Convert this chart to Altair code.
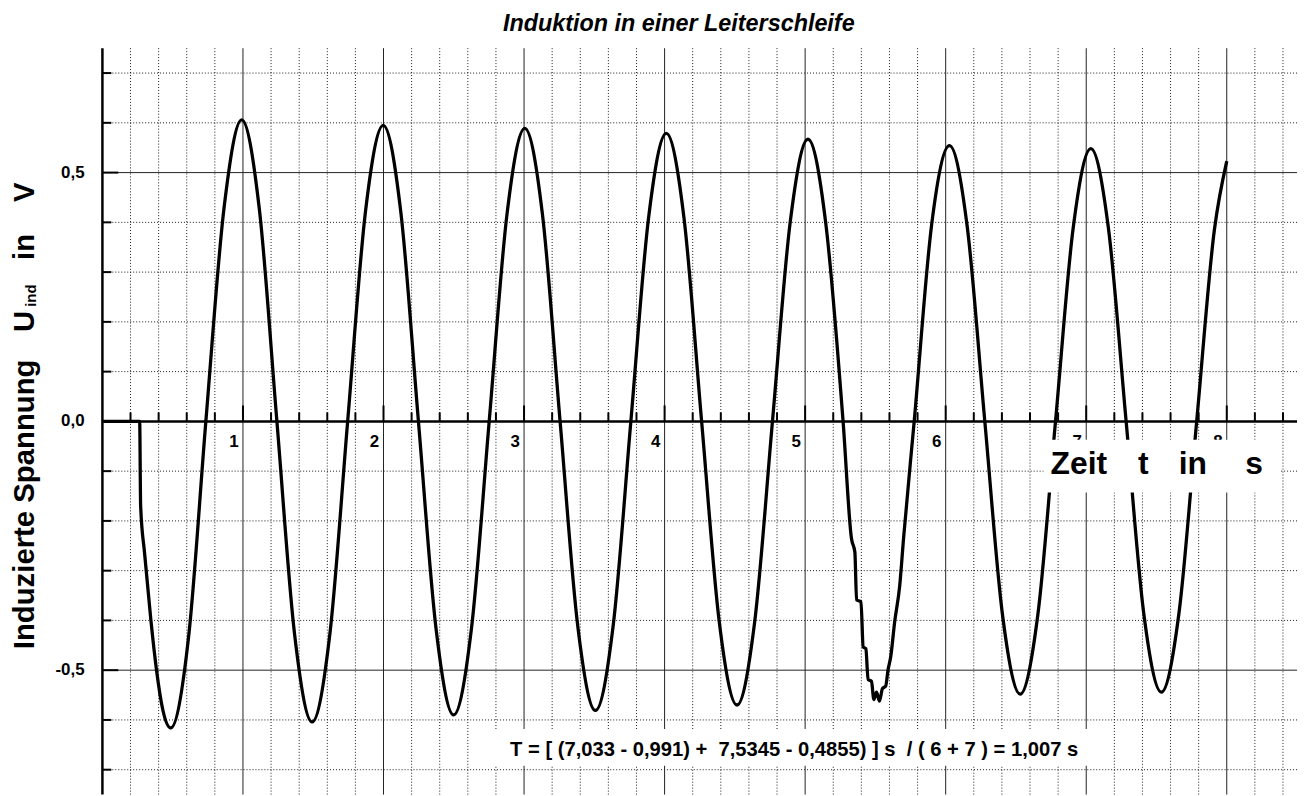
import altair as alt
import pandas as pd

t_s = [0.0, 0.265, 0.272, 0.30, 0.345, 0.385, 0.43, 0.4855,
       0.612, 0.736, 0.865, 0.991,
       1.116, 1.2415, 1.367, 1.492,
       1.6185, 1.745, 1.8715, 1.998,
       2.123, 2.2485, 2.374, 2.499,
       2.6255, 2.752, 2.8785, 3.005,
       3.131, 3.2565, 3.382, 3.508,
       3.634, 3.760, 3.886, 4.012,
       4.138, 4.2635, 4.389, 4.515,
       4.641, 4.7675, 4.894, 5.020,
       5.146, 5.27, 5.33, 5.354, 5.366, 5.397, 5.413, 5.432, 5.448, 5.472,
       5.489, 5.508, 5.529, 5.550, 5.573, 5.590, 5.609, 5.637, 5.673, 5.70,
       5.776, 5.90, 6.027,
       6.153, 6.2785, 6.404, 6.530,
       6.656, 6.7815, 6.907, 7.033,
       7.158, 7.284, 7.409, 7.5345,
       7.66, 7.786, 7.912, 8.0]
u_v = [0.0, 0.0, -0.17, -0.265, -0.40, -0.50, -0.58, -0.616,
       -0.436, 0.0, 0.428, 0.606,
       0.428, 0.0, -0.427, -0.604,
       -0.427, 0.0, 0.421, 0.595,
       0.421, 0.0, -0.417, -0.590,
       -0.417, 0.0, 0.416, 0.589,
       0.416, 0.0, -0.411, -0.581,
       -0.411, 0.0, 0.409, 0.579,
       0.409, 0.0, -0.403, -0.570,
       -0.403, 0.0, 0.401, 0.567,
       0.40, 0.0, -0.236, -0.263, -0.359, -0.362, -0.453, -0.457, -0.519, -0.522,
       -0.559, -0.544, -0.562, -0.537, -0.532, -0.499, -0.473, -0.403, -0.330, -0.236,
       0.0, 0.395, 0.554,
       0.392, 0.0, -0.388, -0.548,
       -0.388, 0.0, 0.388, 0.548,
       0.388, 0.0, -0.385, -0.544,
       -0.385, 0.0, 0.385, 0.523]

# ---- grid / tick values ----
x_major = [1, 2, 3, 4, 5, 6, 7, 8]
x_minor = [round(0.2 * i, 1) for i in range(1, 43) if i % 5]
y_major = [-0.5, 0.5]
y_minor = [-0.7, -0.6, -0.4, -0.3, -0.2, -0.1, 0.1, 0.2, 0.3, 0.4, 0.6, 0.7]
y_tick_major = [-0.5, 0.0, 0.5]
y_labels = ["-0,5", "0,0", "0,5"]
x_labels = ["1", "2", "3", "4", "5", "6", "7", "8"]

FONT = "Liberation Sans"
xs = alt.Scale(domain=[0, 8.5], nice=False, zero=False)
ys = alt.Scale(domain=[-0.75, 0.75], nice=False, zero=False)

curve = pd.DataFrame({"t": t_s, "u": u_v})
df_xmaj = pd.DataFrame({"v": x_major})
df_xmin = pd.DataFrame({"v": x_minor})
df_ymaj = pd.DataFrame({"v": y_major})
df_ymin = pd.DataFrame({"v": y_minor})

grid_xmin = alt.Chart(df_xmin).mark_rule(color="black", strokeWidth=1, strokeDash=[1, 2], opacity=0.9).encode(
    x=alt.X("v:Q", scale=xs, axis=None))
grid_ymin = alt.Chart(df_ymin).mark_rule(color="black", strokeWidth=1, strokeDash=[1, 2], opacity=0.9).encode(
    y=alt.Y("v:Q", scale=ys, axis=None))
grid_xmaj = alt.Chart(df_xmaj).mark_rule(color="#222", strokeWidth=1).encode(
    x=alt.X("v:Q", scale=xs, axis=None))
grid_ymaj = alt.Chart(df_ymaj).mark_rule(color="#222", strokeWidth=1).encode(
    y=alt.Y("v:Q", scale=ys, axis=None))

line = alt.Chart(curve).mark_line(color="black", strokeWidth=3.3, interpolate="monotone").encode(
    x=alt.X("t:Q", scale=xs, axis=None),
    y=alt.Y("u:Q", scale=ys, axis=None))

# axis lines
x_axis_line = alt.Chart(pd.DataFrame({"v": [0.0]})).mark_rule(color="black", strokeWidth=2.5).encode(
    y=alt.Y("v:Q", scale=ys, axis=None))
y_axis_line = alt.Chart(pd.DataFrame({"v": [0.0]})).mark_rule(color="black", strokeWidth=2.5).encode(
    x=alt.X("v:Q", scale=xs, axis=None))

# inward ticks on y axis
ytick_min = alt.Chart(df_ymin).mark_rule(color="black", strokeWidth=2).encode(
    y=alt.Y("v:Q", scale=ys, axis=None), x=alt.value(0), x2=alt.value(9))
ytick_maj = alt.Chart(pd.DataFrame({"v": y_tick_major})).mark_rule(color="black", strokeWidth=2).encode(
    y=alt.Y("v:Q", scale=ys, axis=None), x=alt.value(0), x2=alt.value(16))

# upward ticks on the x axis (drawn at U = 0)
df_xtmin = pd.DataFrame({"v": x_minor, "y0": 0.0, "y1": 0.018})
df_xtmaj = pd.DataFrame({"v": x_major, "y0": 0.0, "y1": 0.032})
xtick_min = alt.Chart(df_xtmin).mark_rule(color="black", strokeWidth=2).encode(
    x=alt.X("v:Q", scale=xs, axis=None), y=alt.Y("y0:Q", scale=ys, axis=None), y2="y1:Q")
xtick_maj = alt.Chart(df_xtmaj).mark_rule(color="black", strokeWidth=2).encode(
    x=alt.X("v:Q", scale=xs, axis=None), y=alt.Y("y0:Q", scale=ys, axis=None), y2="y1:Q")

# tick labels
ylab = alt.Chart(pd.DataFrame({"v": y_tick_major, "lab": y_labels})).mark_text(
    font=FONT, fontWeight="bold", fontSize=17, align="right", baseline="middle", color="black").encode(
    y=alt.Y("v:Q", scale=ys, axis=None), x=alt.value(-18), text="lab:N")
xlab = alt.Chart(pd.DataFrame({"v": x_major, "y0": 0.0, "lab": x_labels})).mark_text(
    font=FONT, fontWeight="bold", fontSize=17, align="center", baseline="middle", dx=-9, dy=21,
    color="black").encode(
    x=alt.X("v:Q", scale=xs, axis=None), y=alt.Y("y0:Q", scale=ys, axis=None), text="lab:N")

one = alt.Data(values=[{}])

def txt(s, x, y, size, angle=0, align="center", baseline="alphabetic", style="normal"):
    return alt.Chart(one).mark_text(
        text=s, font=FONT, fontWeight="bold", fontSize=size, angle=angle, align=align,
        baseline=baseline, fontStyle=style, color="black").encode(x=alt.value(x), y=alt.value(y))

def box(x1, x2, y1, y2):
    return alt.Chart(one).mark_rect(color="white").encode(
        x=alt.value(x1), x2=alt.value(x2), y=alt.value(y1), y2=alt.value(y2))

title = txt("Induktion in einer Leiterschleife", 580, -17, 23.5, style="italic")

# y-axis title pieces (rotated)
yt1 = txt("Induzierte Spannung", -69, 459, 29.5, angle=270)
yt2 = txt("U", -69, 275, 29.5, angle=270)
yt3 = txt("ind", -67, 249, 15, angle=270)
yt4 = txt("in", -69, 200, 29.5, angle=270)
yt5 = txt("V", -69, 145, 29.5, angle=270)

# x-axis title in white box
xbox = box(947, 1185, 394, 447)
xt1 = txt("Zeit", 954, 428, 32, align="left")
xt2 = txt("t", 1042, 428, 32, align="left")
xt3 = txt("in", 1083, 428, 32, align="left")
xt4 = txt("s", 1150, 428, 32, align="left")

# formula in white box
fbox = box(382, 997, 685, 722)
formula = txt("T = [ (7,033 - 0,991) +\u00a0 7,5345 - 0,4855) ] s\u00a0 / ( 6 + 7 ) = 1,007 s",
              696, 712, 20.3)

chart = alt.layer(
    grid_xmin, grid_ymin, grid_xmaj, grid_ymaj,
    line,
    x_axis_line, y_axis_line,
    ytick_min, ytick_maj, xtick_min, xtick_maj,
    ylab, xlab,
    xbox, fbox,
    title, yt1, yt2, yt3, yt4, yt5,
    xt1, xt2, xt3, xt4, formula,
).properties(
    width=1202, height=751,
    autosize=alt.AutoSizeParams(type="none"),
    padding={"left": 95, "top": 38, "right": 6, "bottom": 0},
    background="white",
).configure_view(stroke=None)

chart.save("out.html", embed_options={"renderer": "svg", "actions": False})
